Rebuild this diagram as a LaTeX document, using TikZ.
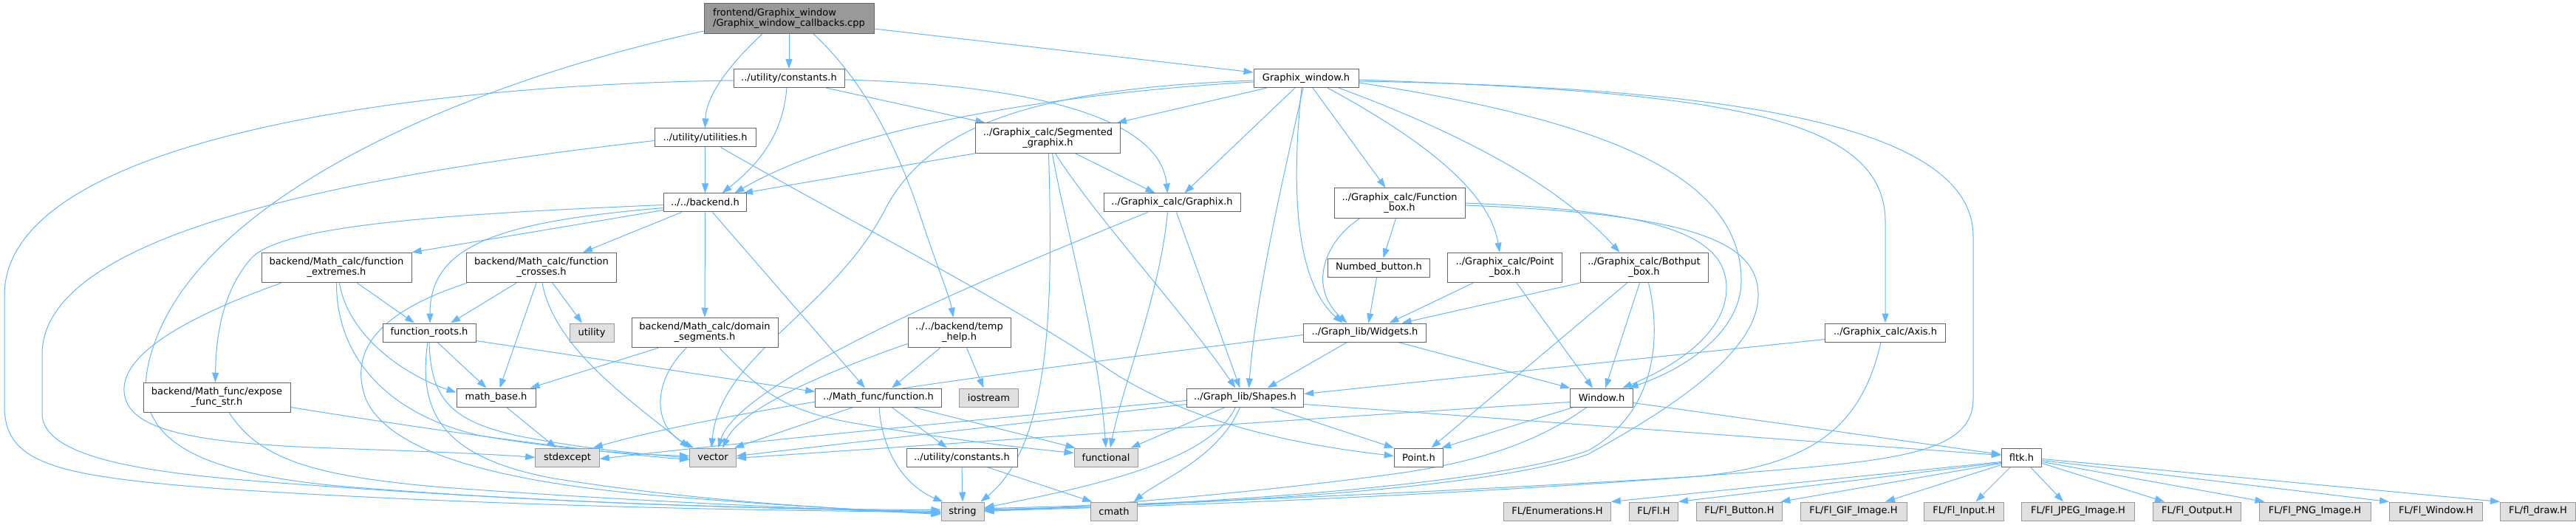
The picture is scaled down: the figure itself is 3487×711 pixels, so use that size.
\documentclass[tikz,border=0pt]{standalone}
\usepackage{fontspec}
\usetikzlibrary{arrows.meta}
\newfontfamily\dvs{DejaVu Sans}
\definecolor{edgec}{HTML}{63B8FF}
\definecolor{greyfo}{HTML}{666666}
\definecolor{greysx}{HTML}{999999}
\definecolor{extfill}{HTML}{E0E0E0}
\pgfdeclarelayer{bg}
\pgfsetlayers{bg,main}
\tikzset{
  nbox/.style={draw=greyfo, fill=white, line width=1pt, inner sep=0pt, align=center,
    font=\dvs\fontsize{13}{14}\selectfont, minimum height=25pt, text=black},
  tall/.style={minimum height=40.5pt},
  xbox/.style={nbox, draw=greysx, fill=extfill},
  rbox/.style={nbox, tall, fill=greysx, align=left},
  dep/.style={draw=edgec, line width=1pt, -{Triangle[length=13pt,width=9pt]}}
}
\begin{document}
\begin{tikzpicture}[x=1pt,y=-1pt]
\useasboundingbox (0,0) rectangle (3487,711);
% nodes
\node[rbox, minimum width=230pt] (R) at (1068,25) {frontend/Graphix\_window\\/Graphix\_window\_callbacks.cpp};
\node[nbox, minimum width=150pt] (UC) at (1068,106) {../utility/constants.h};
\node[nbox, minimum width=137pt] (UU) at (954.5,186.5) {../utility/utilities.h};
\node[nbox, minimum width=112pt] (BE) at (954.5,274.5) {../../backend.h};
\node[nbox, tall, minimum width=196pt] (SG) at (1418.5,187) {../Graphix\_calc/Segmented\\\_graphix.h};
\node[nbox, minimum width=185pt] (GX) at (1586.5,274.5) {../Graphix\_calc/Graphix.h};
\node[nbox, minimum width=142pt] (GW) at (1768,106) {Graphix\_window.h};
\node[nbox, tall, minimum width=203pt] (FE) at (455.5,362.5) {backend/Math\_calc/function\\\_extremes.h};
\node[nbox, tall, minimum width=202.5pt] (FC) at (733,362.5) {backend/Math\_calc/function\\\_crosses.h};
\node[nbox, minimum width=126pt] (FR) at (581,450.5) {function\_roots.h};
\node[xbox, minimum width=60pt] (UT) at (801,450.5) {utility};
\node[nbox, tall, minimum width=198pt] (DS) at (954,450.5) {backend/Math\_calc/domain\\\_segments.h};
\node[nbox, tall, minimum width=199pt] (EF) at (293.5,538.5) {backend/Math\_func/expose\\\_func\_str.h};
\node[nbox, minimum width=107pt] (MB) at (671.5,538.5) {math\_base.h};
\node[xbox, minimum width=86.5pt] (SE) at (768,619.5) {stdexcept};
\node[xbox, minimum width=63pt] (VE) at (965,619.5) {vector};
\node[nbox, minimum width=150pt] (UC2) at (1302,619.5) {../utility/constants.h};
\node[xbox, minimum width=86pt] (FN) at (1497,619.5) {functional};
\node[nbox, minimum width=66.5pt] (PT) at (1920.5,619.5) {Point.h};
\node[nbox, minimum width=54.5pt] (FL) at (2736.5,619.5) {fltk.h};
\node[xbox, minimum width=58pt] (ST) at (1303,692.5) {string};
\node[xbox, minimum width=62.5pt] (CM) at (1508,692.5) {cmath};
\node[nbox, minimum width=170.5pt] (MF) at (1189,538.5) {../Math\_func/function.h};
\node[xbox, minimum width=80pt] (IO) at (1338.5,538.5) {iostream};
\node[nbox, tall, minimum width=139pt] (TH) at (1298.5,450.5) {../../backend/temp\\\_help.h};
\node[nbox, minimum width=158.5pt] (SH) at (1685.5,538.5) {../Graph\_lib/Shapes.h};
\node[nbox, tall, minimum width=177pt] (FB) at (1894.5,275) {../Graphix\_calc/Function\\\_box.h};
\node[nbox, minimum width=138.5pt] (NB) at (1866.5,362.5) {Numbed\_button.h};
\node[nbox, tall, minimum width=154.5pt] (PB) at (2037,362.5) {../Graphix\_calc/Point\\\_box.h};
\node[nbox, tall, minimum width=173pt] (BB) at (2225.5,362.5) {../Graphix\_calc/Bothput\\\_box.h};
\node[nbox, minimum width=166pt] (WG) at (1847.5,450.5) {../Graph\_lib/Widgets.h};
\node[nbox, minimum width=162.5pt] (AX) at (2552,450.5) {../Graphix\_calc/Axis.h};
\node[nbox, minimum width=84.5pt] (WN) at (2168,538.5) {Window.h};
\node[xbox, minimum width=144.5pt] (F1) at (2108,692.5) {FL/Enumerations.H};
\node[xbox, minimum width=66pt] (F2) at (2238.5,692.5) {FL/Fl.H};
\node[xbox, minimum width=116.5pt] (F3) at (2354.5,692.5) {FL/Fl\_Button.H};
\node[xbox, minimum width=144pt] (F4) at (2509,692.5) {FL/Fl\_GIF\_Image.H};
\node[xbox, minimum width=107.5pt] (F5) at (2658.5,692.5) {FL/Fl\_Input.H};
\node[xbox, minimum width=153pt] (F6) at (2813,692.5) {FL/Fl\_JPEG\_Image.H};
\node[xbox, minimum width=119.5pt] (F7) at (2974,692.5) {FL/Fl\_Output.H};
\node[xbox, minimum width=151pt] (F8) at (3133.5,692.5) {FL/Fl\_PNG\_Image.H};
\node[xbox, minimum width=126pt] (F9) at (3297.5,692.5) {FL/Fl\_Window.H};
\node[xbox, minimum width=102pt] (F10) at (3435.5,692.5) {FL/fl\_draw.H};
% edges
\begin{pgfonlayer}{bg}
\fill[white] (0,0) rectangle (3487,711);
% root
\draw[dep] ([xshift=-36pt]R.south) .. controls (985,90) and (956,130) .. (UU.north);
\draw[dep] (R.south) -- (UC.north);
\draw[dep] ([xshift=33pt]R.south) .. controls (1170,110) and (1215,200) .. (1245,290) .. controls (1268,360) and (1285,400) .. ([xshift=-8pt]TH.north);
\draw[dep] ([yshift=-14pt]R.east) -- ([yshift=8pt]GW.west);
\draw[dep] ([yshift=-17pt]R.west) .. controls (600,120) and (290,270) .. (215,450) .. controls (160,580) and (230,640) .. (480,660) .. controls (800,685) and (1100,690) .. ([yshift=2pt]ST.west);
% utility constants
\draw[dep] ([yshift=-3pt]UC.west) .. controls (550,115) and (6,190) .. (6,400) -- (6,550) .. controls (6,630) and (80,645) .. (300,662) .. controls (700,688) and (1100,692) .. ([yshift=-1pt]ST.west);
\draw[dep] ([xshift=-3pt]UC.south) .. controls (1060,180) and (1030,220) .. ([xshift=23pt]BE.north);
\draw[dep] ([xshift=50pt]UC.south) -- ([xshift=-85pt]SG.north);
\draw[dep] ([yshift=-2pt]UC.east) .. controls (1400,115) and (1570,160) .. ([xshift=-6pt]GX.north);
% utilities
\draw[dep] ([yshift=-4pt]UU.west) .. controls (450,240) and (57,320) .. (57,480) -- (57,560) .. controls (57,630) and (250,645) .. (420,657) .. controls (800,685) and (1100,690) .. (ST.west);
\draw[dep] (UU.south) -- (BE.north);
\draw[dep] ([xshift=21pt]UU.south) .. controls (1150,300) and (1350,400) .. (1500,500) .. controls (1620,580) and (1780,605) .. ([yshift=2pt]PT.west);
% segmented
\draw[dep] (SG.south west) -- ([xshift=-5pt]BE.north east);
\draw[dep] ([xshift=37pt]SG.south) -- ([xshift=-23pt]GX.north);
\draw[dep] ([xshift=1pt]SG.south) .. controls (1425,400) and (1425,600) .. ([xshift=-5pt]ST.north east);
\draw[dep] ([xshift=6pt]SG.south) .. controls (1440,300) and (1485,450) .. (FN.north);
\draw[dep] ([xshift=10pt]SG.south) .. controls (1480,290) and (1600,420) .. ([xshift=-13pt]SH.north);
% graphix
\draw[dep] ([xshift=-33pt]GX.south) .. controls (1300,390) and (1000,520) .. ([xshift=7pt]VE.north);
\draw[dep] ([xshift=-6pt]GX.south) .. controls (1570,400) and (1520,520) .. ([xshift=6pt]FN.north);
\draw[dep] ([xshift=6pt]GX.south) -- ([xshift=-7pt]SH.north);
% graphix window
\draw[dep] ([yshift=-5pt]GW.west) .. controls (1450,125) and (1150,170) .. ([xshift=40pt]BE.north);
\draw[dep] ([yshift=-3pt]GW.west) .. controls (1400,120) and (1260,170) .. (1200,280) .. controls (1130,420) and (975,480) .. ([xshift=-2pt]VE.north);
\draw[dep] ([xshift=-53pt]GW.south) -- ([xshift=-5pt]SG.north east);
\draw[dep] ([xshift=-15pt]GW.south) -- ([xshift=17pt]GX.north);
\draw[dep] ([xshift=-4pt]GW.south) .. controls (1735,250) and (1700,400) .. ([xshift=5pt]SH.north);
\draw[dep] ([xshift=-6pt]GW.south) .. controls (1748,250) and (1752,380) .. ([xshift=-30pt]WG.north);
\draw[dep] ([xshift=9pt]GW.south) -- ([xshift=-19pt]FB.north);
\draw[dep] ([xshift=29pt]GW.south) .. controls (1900,175) and (2015,250) .. ([xshift=-7pt]PB.north);
\draw[dep] ([xshift=44pt]GW.south) .. controls (1950,170) and (2100,240) .. ([xshift=-33pt]BB.north);
\draw[dep] ([yshift=-2pt]GW.east) .. controls (2300,125) and (2552,150) .. (2552,300) -- (AX.north);
\draw[dep] ([yshift=-4pt]GW.east) .. controls (2300,118) and (2671,160) .. (2671,320) -- (2671,540) .. controls (2671,620) and (2550,625) .. (2300,645) .. controls (1900,670) and (1500,685) .. ([yshift=4pt]ST.east);
\draw[dep] ([yshift=-6pt]GW.east) .. controls (2150,160) and (2357,230) .. (2357,380) .. controls (2357,450) and (2280,500) .. ([xshift=-6pt]WN.north east);
% function box
\draw[dep] ([xshift=-54pt]FB.south) .. controls (1790,330) and (1772,390) .. ([xshift=-24pt]WG.north);
\draw[dep] (FB.east) .. controls (2250,285) and (2337,320) .. (2337,390) .. controls (2337,450) and (2270,495) .. ([xshift=28pt]WN.north);
\draw[dep] ([yshift=-3pt]FB.east) .. controls (2300,290) and (2380,330) .. (2380,400) .. controls (2380,480) and (2250,560) .. (2150,615) .. controls (2000,670) and (1500,688) .. ([yshift=3pt]ST.east);
\draw[dep] ([xshift=-5pt]FB.south) -- ([xshift=6pt]NB.north);
\draw[dep] ([xshift=-3pt]NB.south) -- ([xshift=5pt]WG.north);
% point box, bothput box
\draw[dep] ([xshift=-43pt]PB.south) -- ([xshift=33pt]WG.north);
\draw[dep] ([xshift=16pt]PB.south) -- ([xshift=-12pt]WN.north);
\draw[dep] (BB.south west) -- ([xshift=50pt]WG.north);
\draw[dep] ([xshift=-23pt]BB.south) -- ([xshift=17pt]PT.north);
\draw[dep] ([xshift=-6pt]BB.south) -- ([xshift=5pt]WN.north);
\draw[dep] ([xshift=6pt]BB.south) .. controls (2250,460) and (2240,560) .. (2150,610) .. controls (2000,665) and (1500,688) .. ([yshift=2pt]ST.east);
% widgets
\draw[dep] ([xshift=-24pt]WG.south) -- ([xshift=30pt]SH.north);
\draw[dep] ([xshift=45pt]WG.south) -- (WN.north west);
\draw[dep] ([yshift=-3pt]WG.west) .. controls (1400,500) and (1000,550) .. ([xshift=-9pt]SE.north east);
% axis
\draw[dep] ([yshift=-9pt]AX.west) -- ([yshift=5pt]SH.east);
\draw[dep] ([xshift=-6pt]AX.south) .. controls (2520,580) and (2450,630) .. (2300,645) .. controls (1900,675) and (1500,688) .. ([yshift=1pt]ST.east);
% window
\draw[dep] ([yshift=-6pt]WN.west) .. controls (1800,565) and (1300,600) .. ([yshift=-1pt]VE.east);
\draw[dep] ([xshift=-38pt]WN.south) -- ([xshift=-3pt]PT.north east);
\draw[dep] ([xshift=-20pt]WN.south) .. controls (2080,600) and (2000,625) .. (1900,640) .. controls (1700,668) and (1450,688) .. (ST.east);
\draw[dep] ([yshift=-7pt]WN.east) -- ([yshift=4pt]FL.west);
% shapes
\draw[dep] ([yshift=-9pt]SH.east) -- ([yshift=3pt]FL.west);
\draw[dep] ([xshift=34pt]SH.south) -- (PT.north west);
\draw[dep] ([xshift=-27pt]SH.south) -- ([xshift=-10pt]FN.north east);
\draw[dep] ([xshift=-13pt]SH.south) .. controls (1640,620) and (1500,655) .. ([yshift=5pt]ST.east);
\draw[dep] ([xshift=-7pt]SH.south) .. controls (1650,620) and (1570,650) .. ([xshift=-5pt]CM.north east);
\draw[dep] ([yshift=-4pt]SH.west) .. controls (1300,570) and (950,605) .. ([yshift=-2pt]SE.east);
\draw[dep] ([yshift=-9pt]SH.west) -- ([yshift=2pt]VE.east);
% temp help
\draw[dep] ([yshift=-15pt]TH.west) .. controls (1130,500) and (1005,550) .. ([xshift=13pt]VE.north);
\draw[dep] ([xshift=-26pt]TH.south) -- ([xshift=18pt]MF.north);
\draw[dep] ([xshift=10pt]TH.south) -- ([xshift=-7pt]IO.north);
% function.h
\draw[dep] ([xshift=-34pt]MF.south) -- ([xshift=-3pt]VE.north east);
\draw[dep] ([xshift=1pt]MF.south) .. controls (1195,620) and (1230,660) .. ([xshift=3pt]ST.north west);
\draw[dep] ([xshift=18pt]MF.south) -- ([xshift=-20pt]UC2.north);
\draw[dep] ([xshift=47pt]MF.south) -- ([xshift=2pt]FN.north west);
% constants (lower)
\draw[dep] (UC2.south) -- (ST.north);
\draw[dep] ([xshift=34pt]UC2.south) -- ([xshift=2pt]CM.north west);
% domain segments
\draw[dep] ([xshift=-63pt]DS.south) -- ([xshift=-8pt]MB.north east);
\draw[dep] ([xshift=-25pt]DS.south) .. controls (880,520) and (885,580) .. ([xshift=6pt]VE.north west);
\draw[dep] ([xshift=20pt]DS.south) .. controls (1030,530) and (1060,555) .. (1150,572) .. controls (1300,598) and (1400,608) .. ([yshift=6pt]FN.west);
% backend
\draw[dep] (BE.south) -- (DS.north);
\draw[dep] ([xshift=10pt]BE.south) -- ([xshift=-18pt]MF.north);
\draw[dep] ([yshift=-10pt]BE.west) -- (FE.north east);
\draw[dep] ([xshift=-32pt]BE.south) -- ([xshift=56pt]FC.north);
\draw[dep] ([yshift=-3pt]BE.west) .. controls (600,290) and (380,305) .. (340,350) .. controls (300,395) and (292,460) .. ([xshift=-2pt]EF.north);
\draw[dep] ([yshift=-7pt]BE.west) .. controls (680,300) and (582,330) .. ([xshift=1pt]FR.north);
% function extremes
\draw[dep] ([xshift=28pt]FE.south) -- ([xshift=-20pt]FR.north);
\draw[dep] ([xshift=4pt]FE.south) .. controls (470,450) and (540,505) .. ([yshift=7pt]MB.west);
\draw[dep] ([xshift=-75pt]FE.south) .. controls (250,430) and (165,480) .. (168,530) .. controls (171,580) and (250,600) .. (450,607) .. controls (600,612) and (680,616) .. (SE.west);
\draw[dep] (FE.south) .. controls (455,480) and (520,560) .. (650,590) .. controls (780,612) and (880,616) .. ([yshift=2pt]VE.west);
% function crosses
\draw[dep] ([xshift=-34pt]FC.south) -- ([xshift=29pt]FR.north);
\draw[dep] ([xshift=-7pt]FC.south) -- ([xshift=5pt]MB.north);
\draw[dep] ([xshift=15pt]FC.south) -- ([xshift=-13pt]UT.north);
\draw[dep] ([xshift=1pt]FC.south) .. controls (750,470) and (850,540) .. (VE.north west);
\draw[dep] ([xshift=1pt]FC.south west) .. controls (520,420) and (470,470) .. (495,540) .. controls (530,620) and (700,655) .. (900,672) .. controls (1100,688) and (1200,692) .. ([yshift=-2pt]ST.west);
% function roots
\draw[dep] ([xshift=-2pt]FR.south) .. controls (565,560) and (600,620) .. (750,648) .. controls (950,680) and (1150,690) .. ([yshift=-3pt]ST.west);
\draw[dep] (FR.south) .. controls (583,540) and (610,570) .. (700,590) .. controls (800,610) and (880,615) .. ([yshift=-1pt]VE.west);
\draw[dep] ([xshift=11pt]FR.south) -- ([xshift=-13pt]MB.north);
\draw[dep] ([yshift=-11pt]FR.east) -- ([yshift=8pt]MF.west);
% math base
\draw[dep] ([xshift=14pt]MB.south) -- ([xshift=-15pt]SE.north);
% expose
\draw[dep] ([yshift=-13pt]EF.east) .. controls (600,585) and (800,612) .. ([yshift=-3pt]VE.west);
\draw[dep] ([xshift=17pt]EF.south) .. controls (350,620) and (420,645) .. (600,660) .. controls (900,682) and (1150,690) .. ([yshift=-4pt]ST.west);
% fltk
\draw[dep] ([yshift=-6pt]FL.west) -- (F1.north east);
\draw[dep] ([yshift=-7pt]FL.west) -- (F2.north east);
\draw[dep] ([yshift=-8pt]FL.west) -- ([xshift=-3pt]F3.north east);
\draw[dep] ([yshift=-10pt]FL.west) -- ([xshift=43pt]F4.north);
\draw[dep] ([xshift=-15pt]FL.south) -- ([xshift=16pt]F5.north);
\draw[dep] ([xshift=12pt]FL.south) -- ([xshift=-20pt]F6.north);
\draw[dep] ([yshift=-8pt]FL.east) -- ([xshift=-44pt]F7.north);
\draw[dep] ([yshift=-6pt]FL.east) -- ([xshift=8pt]F8.north west);
\draw[dep] ([yshift=-4pt]FL.east) -- (F9.north west);
\draw[dep] ([yshift=-2pt]FL.east) -- (F10.north west);
\end{pgfonlayer}
\end{tikzpicture}
\end{document}
